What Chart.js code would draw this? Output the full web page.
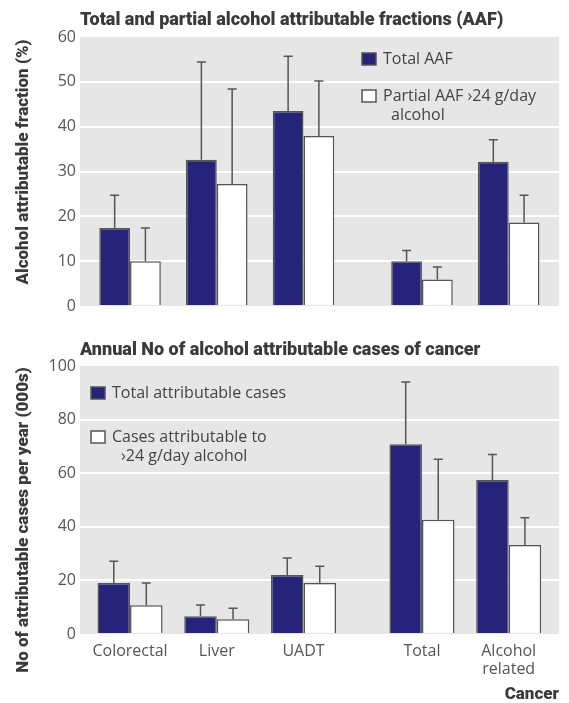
<!DOCTYPE html>
<html>
<head>
<meta charset="utf-8">
<script src="https://cdn.jsdelivr.net/npm/chart.js@4.4.1/dist/chart.umd.min.js"></script>
<style>
html, body { margin: 0; padding: 0; background: #fff; }
#wrap { position: relative; width: 569px; height: 703px; }
.panel { position: absolute; left: 0; width: 569px; }
</style>
</head>
<body>
<div id="wrap">
  <div class="panel" style="top:0;height:330px"><canvas id="aafChart"></canvas></div>
  <div class="panel" style="top:330px;height:373px"><canvas id="casesChart"></canvas></div>
</div>
<script>
// values
const categories = ["Colorectal", "Liver", "UADT", "Total", "Alcohol related"];
const categoryTicks = ["Colorectal", "Liver", "UADT", "Total", ["Alcohol", "related"]];

const totalAAF = [17.4, 32.6, 43.5, 10.0, 32.2];
const totalAAFUpper = [24.7, 54.4, 55.7, 12.4, 37.1];
const partialAAF = [10.0, 27.2, 37.9, 5.9, 18.6];
const partialAAFUpper = [17.4, 48.4, 50.2, 8.7, 24.7];

const totalCases = [19.0, 6.6, 22.0, 70.8, 57.5];
const totalCasesUpper = [27.1, 10.8, 28.4, 94.0, 67.0];
const partialCases = [10.7, 5.5, 19.0, 42.6, 33.2];
const partialCasesUpper = [19.0, 9.6, 25.3, 65.2, 43.4];

const aafTicks = [0, 10, 20, 30, 40, 50, 60];
const casesTicks = [0, 20, 40, 60, 80, 100];

const aafLegend = ["Total AAF", ["Partial AAF \u203a24 g/day", "alcohol"]];
const casesLegend = ["Total attributable cases", ["Cases attributable to", "\u203a24 g/day alcohol"]];

const NAVY = "#25237a";
const EDGE = "#555555";
const BOLD_FAMILY = "Roboto, sans-serif";
const REG = "'Open Sans', sans-serif";

// extra space between the site groups and the totals
const groupGap = 0.366;
const xPos = categories.map((c, i) => i + (i >= 3 ? groupGap : 0));
const xMin = xPos[0] - 0.577;
const xMax = xPos[xPos.length - 1] + 0.58;

const plotBackground = {
  id: "plotBackground",
  beforeDraw(chart) {
    const a = chart.chartArea;
    chart.ctx.save();
    chart.ctx.fillStyle = "#e6e6e6";
    chart.ctx.fillRect(a.left, a.top, a.right - a.left, a.bottom - a.top);
    chart.ctx.restore();
  }
};

const errorBars = {
  id: "errorBars",
  afterDatasetsDraw(chart) {
    const ctx = chart.ctx;
    const y = chart.scales.y;
    ctx.save();
    ctx.strokeStyle = EDGE;
    ctx.lineWidth = 1.5;
    chart.data.datasets.forEach((ds, di) => {
      chart.getDatasetMeta(di).data.forEach((bar, i) => {
        const top = y.getPixelForValue(ds.upper[i]);
        ctx.beginPath();
        ctx.moveTo(bar.x, bar.y);
        ctx.lineTo(bar.x, top);
        ctx.moveTo(bar.x - 4.5, top);
        ctx.lineTo(bar.x + 4.5, top);
        ctx.stroke();
      });
    });
    ctx.restore();
  }
};

const panelText = {
  id: "panelText",
  afterDraw(chart, args, opts) {
    const ctx = chart.ctx;
    ctx.save();
    ctx.fillStyle = "#3a3a3a";
    ctx.font = "900 18px " + BOLD_FAMILY;
    ctx.textBaseline = "alphabetic";
    ctx.textAlign = "left";
    ctx.fillText(opts.title, chart.chartArea.left, opts.titleY);

    ctx.save();
    ctx.font = "900 17px " + BOLD_FAMILY;
    ctx.translate(opts.axisX, opts.axisY);
    ctx.rotate(-Math.PI / 2);
    ctx.textAlign = "center";
    ctx.textBaseline = "middle";
    ctx.fillText(opts.axisTitle, 0, 0);
    ctx.restore();

    // legend
    ctx.font = "16px " + REG;
    ctx.textBaseline = "middle";
    chart.data.datasets.forEach((ds, i) => {
      const it = opts.legend[i];
      ctx.fillStyle = ds.backgroundColor;
      ctx.fillRect(it.x, it.y - 6, 14, 12);
      ctx.strokeStyle = EDGE;
      ctx.lineWidth = 1.5;
      ctx.strokeRect(it.x, it.y - 6, 14, 12);
      ctx.fillStyle = "#444";
      const lines = [].concat(opts.labels[i]);
      lines.forEach((t, k) => {
        ctx.fillText(t, it.x + 21 + (k > 0 ? it.indent : 0), it.y + k * 19);
      });
    });
    ctx.restore();
  }
};

function makeData(total, totalUp, partial, partialUp, labels) {
  return {
    datasets: [
      {
        label: [].concat(labels[0]).join(" "),
        data: total.map((v, i) => ({ x: xPos[i], y: v })),
        upper: totalUp,
        backgroundColor: NAVY,
        borderColor: EDGE,
        borderWidth: 1.5
      },
      {
        label: [].concat(labels[1]).join(" "),
        data: partial.map((v, i) => ({ x: xPos[i], y: v })),
        upper: partialUp,
        backgroundColor: "#ffffff",
        borderColor: EDGE,
        borderWidth: 1.5
      }
    ]
  };
}

function yAxis(ticks) {
  return {
    min: ticks[0],
    max: ticks[ticks.length - 1],
    afterBuildTicks: (s) => { s.ticks = ticks.map(v => ({ value: v })); },
    afterFit: (s) => { s.width = 80; },
    border: { display: false },
    grid: {
      drawTicks: false,
      lineWidth: 2,
      color: (c) => (c.index === 0 || c.index === ticks.length - 1) ? "rgba(0,0,0,0)" : "#ffffff"
    },
    ticks: { padding: 4, color: "#555", font: { family: REG, size: 16 } }
  };
}

const common = {
  responsive: true,
  maintainAspectRatio: false,
  animation: false,
  categoryPercentage: 0.75,
  barPercentage: 1
};

new Chart(document.getElementById("aafChart"), {
  type: "bar",
  data: makeData(totalAAF, totalAAFUpper, partialAAF, partialAAFUpper, aafLegend),
  options: Object.assign({}, common, {
    layout: { padding: { top: 37, right: 10, bottom: 24, left: 0 } },
    scales: {
      x: { type: "linear", min: xMin, max: xMax, offset: false, display: false },
      y: yAxis(aafTicks)
    },
    plugins: {
      legend: { display: false },
      tooltip: { enabled: false },
      panelText: {
        title: "Total and partial alcohol attributable fractions (AAF)",
        titleY: 25,
        axisTitle: "Alcohol attributable fraction (%)",
        axisX: 24, axisY: 162,
        labels: aafLegend,
        legend: [{ x: 362, y: 59, indent: 8 }, { x: 362, y: 96, indent: 8 }]
      }
    }
  }),
  plugins: [plotBackground, errorBars, panelText]
});

new Chart(document.getElementById("casesChart"), {
  type: "bar",
  data: makeData(totalCases, totalCasesUpper, partialCases, partialCasesUpper, casesLegend),
  options: Object.assign({}, common, {
    layout: { padding: { top: 36, right: 10, bottom: 0, left: 0 } },
    scales: {
      x: {
        type: "linear", min: xMin, max: xMax, offset: false,
        afterBuildTicks: (s) => { s.ticks = xPos.map(v => ({ value: v })); },
        afterFit: (s) => { s.height = 69; },
        border: { display: false },
        grid: { display: false },
        ticks: {
          autoSkip: false, maxRotation: 0, minRotation: 0, padding: 0,
          color: "#555", font: { family: REG, size: 16, lineHeight: 1.15 },
          callback: (v, i) => categoryTicks[i]
        },
        title: {
          display: true, text: "Cancer", align: "end", color: "#3a3a3a",
          padding: 0,
          font: { family: BOLD_FAMILY, size: 17, weight: "900", lineHeight: 1 }
        }
      },
      y: yAxis(casesTicks)
    },
    plugins: {
      legend: { display: false },
      tooltip: { enabled: false },
      panelText: {
        title: "Annual No of alcohol attributable cases of cancer",
        titleY: 25,
        axisTitle: "No of attributable cases per year (000s)",
        axisX: 24, axisY: 190,
        labels: casesLegend,
        legend: [{ x: 91, y: 63, indent: 9 }, { x: 91, y: 107, indent: 9 }]
      }
    }
  }),
  plugins: [plotBackground, errorBars, panelText]
});
</script>
</body>
</html>
